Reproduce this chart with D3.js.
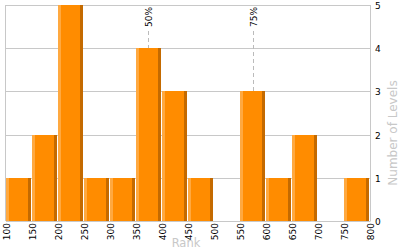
<!DOCTYPE html>
<html><head><meta charset="utf-8">
<script src="https://cdn.jsdelivr.net/npm/d3@7"></script>
<style>body{margin:0;background:#fff}svg{display:block}</style>
</head><body>
<script>
const binStarts = [100,150,200,250,300,350,400,450,500,550,600,650,700,750];
const counts    = [1,2,5,1,1,4,3,1,0,3,1,2,0,1];
const binWidth = 50;
const xTicks = [100,150,200,250,300,350,400,450,500,550,600,650,700,750,800];
const yTicks = [0,1,2,3,4,5];
const percentiles = [{label:"50%", value:374}, {label:"75%", value:575}];

const W=400,H=250;
const svg=d3.select("body").append("svg").attr("width",W).attr("height",H);
const x=d3.scaleLinear().domain([100,800]).range([6,370]);
const y=d3.scaleLinear().domain([0,5]).range([221,5]);
const font="DejaVu Sans, Verdana, sans-serif";

// grid
svg.append("g").selectAll("line").data(yTicks).join("line")
  .attr("x1",6).attr("x2",370.5)
  .attr("y1",d=>Math.round(y(d))+0.5).attr("y2",d=>Math.round(y(d))+0.5)
  .attr("stroke","#c8c8c8").attr("stroke-width",1);
svg.append("line").attr("x1",5.5).attr("x2",5.5).attr("y1",5).attr("y2",221).attr("stroke","#c8c8c8");
svg.append("line").attr("x1",370.5).attr("x2",370.5).attr("y1",5).attr("y2",221).attr("stroke","#c8c8c8");

// bars
const data=binStarts.map((s,i)=>({s,c:counts[i]})).filter(d=>d.c>0);
const bars=svg.append("g");
bars.selectAll("rect.main").data(data).join("rect").attr("class","main")
  .attr("x",d=>Math.round(x(d.s))).attr("width",d=>Math.round(x(d.s+binWidth))-Math.round(x(d.s))-1)
  .attr("y",d=>Math.round(y(d.c))).attr("height",d=>Math.round(y(0))-Math.round(y(d.c)))
  .attr("fill","#ff8c00");
bars.selectAll("rect.lt").data(data).join("rect").attr("class","lt")
  .attr("x",d=>Math.round(x(d.s))).attr("width",3)
  .attr("y",d=>Math.round(y(d.c))).attr("height",d=>Math.round(y(0))-Math.round(y(d.c)))
  .attr("fill","#ffa940");
bars.selectAll("rect.dk").data(data).join("rect").attr("class","dk")
  .attr("x",d=>Math.round(x(d.s+binWidth))-4).attr("width",3)
  .attr("y",d=>Math.round(y(d.c))).attr("height",d=>Math.round(y(0))-Math.round(y(d.c)))
  .attr("fill","#c46a00");

// percentile markers
percentiles.forEach(p=>{
  const i=binStarts.findIndex(s=>p.value>=s && p.value<s+binWidth);
  const px=Math.round(x(p.value))+0.5;
  svg.append("line").attr("x1",px).attr("x2",px).attr("y1",31).attr("y2",Math.round(y(counts[i])))
    .attr("stroke","#bbbbbb").attr("stroke-dasharray","4,3");
  svg.append("text").attr("transform",`translate(${px+3},7) rotate(-90)`)
    .attr("text-anchor","end").attr("font-family",font).attr("font-size",9).attr("fill","#000")
    .text(p.label);
});

// x tick labels
svg.append("g").selectAll("text").data(xTicks).join("text")
  .attr("transform",d=>`translate(${x(d)+3.5},223) rotate(-90)`)
  .attr("text-anchor","end").attr("font-family",font).attr("font-size",9).attr("fill","#000")
  .text(d=>d);

// y tick labels
svg.append("g").selectAll("text").data(yTicks).join("text")
  .attr("x",375).attr("y",d=>y(d)+4)
  .attr("font-family",font).attr("font-size",9).attr("fill","#000")
  .text(d=>d);

// titles
svg.append("text").attr("x",186).attr("y",247).attr("text-anchor","middle")
  .attr("font-family",font).attr("font-size",11.5).attr("fill","#c8c8c8").text("Rank");
svg.append("text").attr("transform","translate(397,133) rotate(-90)").attr("text-anchor","middle")
  .attr("font-family",font).attr("font-size",12).attr("fill","#c8c8c8").text("Number of Levels");
</script>
</body></html>
